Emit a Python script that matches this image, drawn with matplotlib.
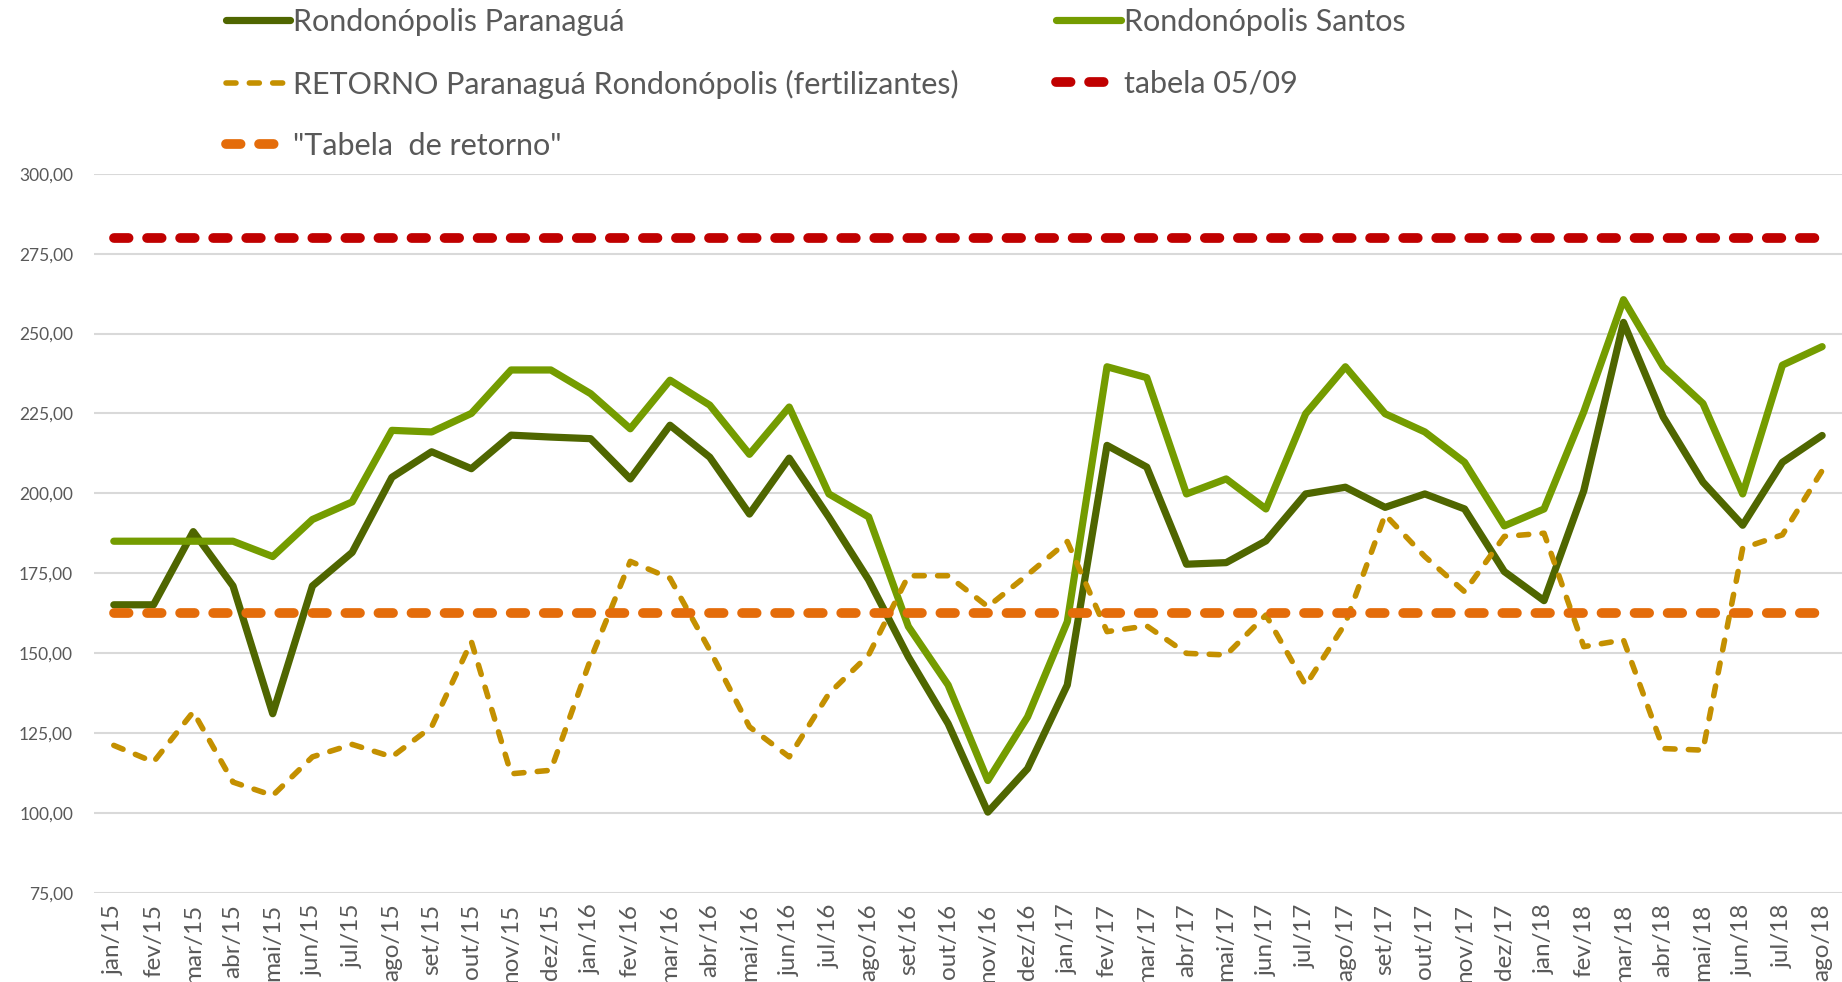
import matplotlib
matplotlib.use("Agg")
import matplotlib.pyplot as plt

plt.rcParams['font.family'] = ['Lato', 'DejaVu Sans']

# month labels
months = ['jan/15', 'fev/15', 'mar/15', 'abr/15', 'mai/15', 'jun/15', 'jul/15', 'ago/15', 'set/15', 'out/15', 'nov/15', 'dez/15',
          'jan/16', 'fev/16', 'mar/16', 'abr/16', 'mai/16', 'jun/16', 'jul/16', 'ago/16', 'set/16', 'out/16', 'nov/16', 'dez/16',
          'jan/17', 'fev/17', 'mar/17', 'abr/17', 'mai/17', 'jun/17', 'jul/17', 'ago/17', 'set/17', 'out/17', 'nov/17', 'dez/17',
          'jan/18', 'fev/18', 'mar/18', 'abr/18', 'mai/18', 'jun/18', 'jul/18', 'ago/18']

paranagua = [165.1, 165.1, 188.0, 171.0, 131.0, 171.0, 181.5, 205.0, 213.0, 207.7, 218.2, 217.6,
             217.1, 204.5, 221.3, 211.3, 193.5, 211.0, 192.5, 172.9, 148.8, 127.9, 100.2, 113.8,
             140.0, 215.0, 208.2, 177.8, 178.3, 185.1, 199.8, 201.9, 195.6, 199.8, 195.1, 175.5,
             166.4, 200.8, 253.5, 223.9, 203.5, 190.0, 209.7, 218.1]

santos = [185.0, 185.0, 185.0, 185.0, 180.2, 191.8, 197.3, 219.7, 219.2, 225.0, 238.6, 238.6,
          231.2, 220.2, 235.4, 227.6, 212.2, 227.0, 199.8, 192.6, 158.3, 140.0, 110.1, 130.0,
          159.8, 239.6, 236.2, 199.8, 204.5, 195.1, 224.9, 239.6, 224.9, 219.2, 209.7, 189.8,
          195.1, 225.5, 260.6, 239.6, 228.1, 199.8, 240.1, 245.9]

retorno = [121.1, 115.9, 131.6, 109.6, 105.4, 117.5, 121.4, 117.5, 126.9, 153.6, 112.2, 113.3,
           148.0, 178.7, 173.4, 150.9, 126.9, 117.5, 137.3, 149.4, 174.2, 174.2, 164.5, 174.5,
           184.9, 156.7, 158.5, 149.9, 149.4, 161.9, 139.9, 159.3, 193.3, 180.2, 169.2, 186.5,
           187.5, 152.0, 154.1, 120.1, 119.6, 182.8, 187.0, 207.1]

tabela_0509 = 280.0
tabela_retorno = 162.5

yticks = [75, 100, 125, 150, 175, 200, 225, 250, 275, 300]
ylabels = ['75,00', '100,00', '125,00', '150,00', '175,00', '200,00', '225,00', '250,00', '275,00', '300,00']

x = list(range(len(months)))

fig = plt.figure(figsize=(18.42, 9.82), dpi=100)
ax = fig.add_axes([0.051, 0.091, 0.949, 0.732])

c_dark = '#4f6600'
c_light = '#749c00'
c_gold = '#c49000'
c_red = '#c00000'
c_orange = '#e46c0a'

l1, = ax.plot(x, paranagua, color=c_dark, lw=5.2, solid_joinstyle='round', solid_capstyle='round')
l2, = ax.plot(x, santos, color=c_light, lw=5.2, solid_joinstyle='round', solid_capstyle='round')
l3, = ax.plot(x, retorno, color=c_gold, lw=4, dashes=(1.8, 2.4), dash_capstyle='round', dash_joinstyle='round')
l4, = ax.plot(x, [tabela_0509] * len(x), color=c_red, lw=7, dashes=(1.5, 1.9), dash_capstyle='round')
l5, = ax.plot(x, [tabela_retorno] * len(x), color=c_orange, lw=7, dashes=(1.5, 1.9), dash_capstyle='round')

ax.set_xlim(-0.5, len(x) - 0.5)
ax.set_ylim(75, 300)
ax.set_yticks(yticks)
ax.set_yticklabels(ylabels)
ax.set_xticks(x)
ax.set_xticklabels(months, rotation=90)
ax.tick_params(axis='both', length=0, colors='#595959')
ax.tick_params(axis='x', pad=8, labelsize=17.5)
ax.tick_params(axis='y', pad=15, labelsize=12.5)
ax.grid(axis='y', color='#d9d9d9', lw=1.5)
ax.set_axisbelow(True)
for s in ax.spines.values():
    s.set_visible(False)

# legend in two columns placed by hand
leg_kw = dict(frameon=False, fontsize=22, handlelength=2.1, handletextpad=0.1,
              labelspacing=1.1, borderpad=0, borderaxespad=0, labelcolor='#595959', loc='upper left')
fig.legend([l1, l3, l5],
           ['Rondonópolis Paranaguá', 'RETORNO Paranaguá Rondonópolis (fertilizantes)', '"Tabela  de retorno"'],
           bbox_to_anchor=(0.1225, 0.992), **leg_kw)
fig.legend([l2, l4], ['Rondonópolis Santos', 'tabela 05/09'],
           bbox_to_anchor=(0.5735, 0.992), **leg_kw)

fig.savefig('out.png', dpi=100)
